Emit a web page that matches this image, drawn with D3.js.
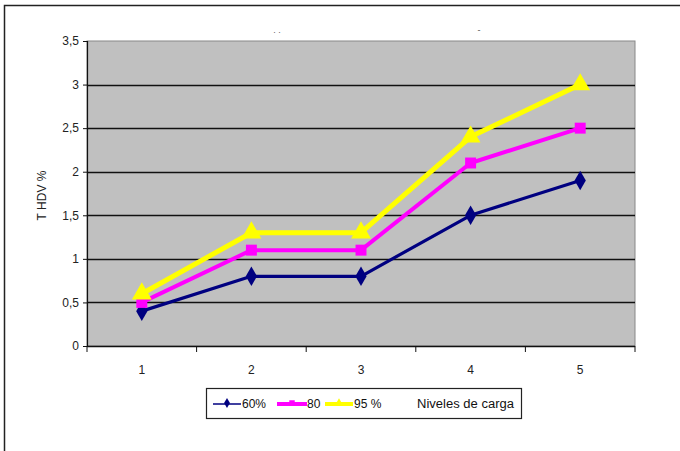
<!DOCTYPE html>
<html>
<head>
<meta charset="utf-8">
<script src="https://cdn.jsdelivr.net/npm/d3@7"></script>
<style>
  html, body { margin: 0; padding: 0; background: #fff; }
  svg { display: block; font-family: "Liberation Sans", Arial, sans-serif; }
</style>
</head>
<body>
<svg id="chart" width="680" height="451"></svg>
<script>
// Load levels on the x axis
const categories = ["1", "2", "3", "4", "5"];
// THDV % per load level
const serie60 = [0.4, 0.8, 0.8, 1.5, 1.9];
const serie80 = [0.5, 1.1, 1.1, 2.1, 2.5];
const serie95 = [0.6, 1.3, 1.3, 2.4, 3.0];
const seriesNames = ["60%", "80", "95 %"];
const yTicks = [0, 0.5, 1, 1.5, 2, 2.5, 3, 3.5];
const yLabel = "T HDV %";
const legendTitle = "Niveles de carga";

const svg = d3.select("#chart");
const plot = { left: 87, top: 41, right: 635, bottom: 346 };

const x = d3.scaleBand().domain(categories).range([plot.left, plot.right]);
const y = d3.scaleLinear().domain([0, 3.5]).range([plot.bottom, plot.top]);
const fmt = d => String(d).replace(".", ",");
const FONT = 12;

// outer frame (top and left edges)
svg.append("path")
  .attr("d", "M4.5,451 L4.5,5.5 L680,5.5")
  .attr("fill", "none").attr("stroke", "#222").attr("stroke-width", 1.5);

// faint title remnants
svg.append("text").attr("x", 277).attr("y", 33).attr("text-anchor", "middle")
  .attr("font-size", 9).attr("fill", "#666").text(". .");
svg.append("text").attr("x", 479).attr("y", 33).attr("text-anchor", "middle")
  .attr("font-size", 9).attr("fill", "#555").text("-");

// plot background
svg.append("rect")
  .attr("x", plot.left).attr("y", plot.top)
  .attr("width", plot.right - plot.left).attr("height", plot.bottom - plot.top)
  .attr("fill", "#c0c0c0").attr("stroke", "#888").attr("stroke-width", 1);

// horizontal gridlines
svg.append("g").selectAll("line")
  .data(yTicks.filter(t => t > 0 && t < 3.5))
  .join("line")
  .attr("x1", plot.left).attr("x2", plot.right)
  .attr("y1", d => Math.round(y(d)) + 0.5).attr("y2", d => Math.round(y(d)) + 0.5)
  .attr("stroke", "#111").attr("stroke-width", 1.4);

// y axis
const yAxis = svg.append("g")
  .attr("transform", `translate(${plot.left},0)`)
  .call(d3.axisLeft(y).tickValues(yTicks).tickFormat(fmt).tickSize(4).tickPadding(4));
yAxis.select(".domain").attr("stroke", "#111").attr("stroke-width", 1.2);
yAxis.selectAll(".tick line").attr("stroke", "#111");
yAxis.selectAll(".tick text").attr("font-size", FONT).attr("fill", "#222")
  .attr("font-family", "Liberation Sans, Arial, sans-serif");

// x axis with ticks between categories
const xAxisG = svg.append("g").attr("transform", `translate(0,${plot.bottom})`);
xAxisG.append("line")
  .attr("x1", plot.left).attr("x2", plot.right).attr("y1", 0.5).attr("y2", 0.5)
  .attr("stroke", "#111").attr("stroke-width", 1.4);
const bounds = categories.map(c => x(c)).concat([x(categories[categories.length - 1]) + x.bandwidth()]);
xAxisG.selectAll("line.tk").data(bounds).join("line").attr("class", "tk")
  .attr("x1", d => d).attr("x2", d => d).attr("y1", 0).attr("y2", 6)
  .attr("stroke", "#111");
xAxisG.selectAll("text").data(categories).join("text")
  .attr("x", d => x(d) + x.bandwidth() / 2).attr("y", 28)
  .attr("text-anchor", "middle").attr("font-size", FONT).attr("fill", "#222").text(d => d);

// y axis title
svg.append("text")
  .attr("transform", `translate(46,${(plot.top + plot.bottom) / 2 + 2}) rotate(-90)`)
  .attr("text-anchor", "middle").attr("font-size", FONT).attr("fill", "#222").text(yLabel);

const cx = d => x(d) + x.bandwidth() / 2;
const seriesDefs = [
  { name: seriesNames[2], values: serie95, color: "#ffff00", width: 5, shape: d3.symbolTriangle, size: 170 },
  { name: seriesNames[1], values: serie80, color: "#ff00ff", width: 4, shape: d3.symbolSquare, size: 120 },
  { name: seriesNames[0], values: serie60, color: "#000080", width: 3.2, shape: d3.symbolDiamond, size: 110 }
];

const line = d3.line().x((d, i) => cx(categories[i])).y(d => y(d));

// lines drawn back to front: yellow, magenta, navy
seriesDefs.forEach(s => {
  svg.append("path").datum(s.values)
    .attr("d", line).attr("fill", "none")
    .attr("stroke", s.color).attr("stroke-width", s.width).attr("stroke-linejoin", "round");
});
seriesDefs.slice().reverse().forEach(s => {
  svg.append("g").selectAll("path").data(s.values).join("path")
    .attr("transform", (d, i) => `translate(${cx(categories[i])},${y(d)})`)
    .attr("d", d3.symbol().type(s.shape).size(s.size))
    .attr("fill", s.color);
});

// legend
const lg = svg.append("g");
lg.append("rect").attr("x", 206.5).attr("y", 388.5).attr("width", 315).attr("height", 30)
  .attr("fill", "#fff").attr("stroke", "#222").attr("stroke-width", 1.2);
const legendItems = [
  { name: seriesNames[0], color: "#000080", width: 1.5, shape: d3.symbolDiamond, size: 30, x1: 213, x2: 241, tx: 242 },
  { name: seriesNames[1], color: "#ff00ff", width: 4, shape: d3.symbolSquare, size: 30, x1: 277, x2: 307, tx: 307 },
  { name: seriesNames[2], color: "#ffff00", width: 4, shape: d3.symbolTriangle, size: 30, x1: 325, x2: 353, tx: 354 }
];
const ly = 404;
legendItems.forEach(it => {
  lg.append("line").attr("x1", it.x1).attr("x2", it.x2).attr("y1", ly).attr("y2", ly)
    .attr("stroke", it.color).attr("stroke-width", it.width);
  lg.append("path").attr("transform", `translate(${(it.x1 + it.x2) / 2},${ly - 1})`)
    .attr("d", d3.symbol().type(it.shape).size(it.size)).attr("fill", it.color);
  lg.append("text").attr("x", it.tx).attr("y", ly + 4).attr("font-size", FONT)
    .attr("fill", "#111").text(it.name);
});
lg.append("text").attr("x", 417).attr("y", ly + 4).attr("font-size", FONT)
  .attr("fill", "#111").attr("textLength", 97).attr("lengthAdjust", "spacingAndGlyphs")
  .text(legendTitle);
</script>
</body>
</html>
